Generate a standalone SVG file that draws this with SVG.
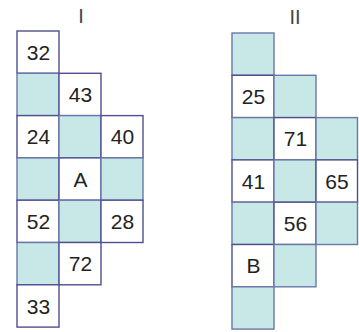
<svg xmlns="http://www.w3.org/2000/svg" width="359" height="332" viewBox="0 0 359 332">
<style>
.w{fill:#ffffff;stroke:#4f4f8f;stroke-width:1.4}
.t{fill:#c7e8e6;stroke:#6a78a8;stroke-width:1.4}
text{font-family:"Liberation Sans",Arial,sans-serif;font-size:21px;fill:#222;text-anchor:middle}
.h{font-size:20px;fill:#444}
</style>
<rect width="359" height="332" fill="#ffffff"/>
<text class="h" x="81" y="23">I</text>
<text class="h" x="295" y="24">II</text>
<g id="grid1">
<g id="I-32"><rect class="w" x="17" y="31" width="42" height="42.3"/><text x="38.5" y="59.7">32</text></g>
<g id="I-r1c0"><rect class="t" x="17" y="73.3" width="42" height="42.3"/></g>
<g id="I-43"><rect class="w" x="59" y="73.3" width="42" height="42.3"/><text x="80.5" y="102">43</text></g>
<g id="I-24"><rect class="w" x="17" y="115.6" width="42" height="42.3"/><text x="38.5" y="144.3">24</text></g>
<g id="I-r2c1"><rect class="t" x="59" y="115.6" width="42" height="42.3"/></g>
<g id="I-40"><rect class="w" x="101" y="115.6" width="42" height="42.3"/><text x="122.5" y="144.3">40</text></g>
<g id="I-r3c0"><rect class="t" x="17" y="157.9" width="42" height="42.3"/></g>
<g id="I-A"><rect class="w" x="59" y="157.9" width="42" height="42.3"/><text x="80.5" y="186.6">A</text></g>
<g id="I-r3c2"><rect class="t" x="101" y="157.9" width="42" height="42.3"/></g>
<g id="I-52"><rect class="w" x="17" y="200.2" width="42" height="42.3"/><text x="38.5" y="228.9">52</text></g>
<g id="I-r4c1"><rect class="t" x="59" y="200.2" width="42" height="42.3"/></g>
<g id="I-28"><rect class="w" x="101" y="200.2" width="42" height="42.3"/><text x="122.5" y="228.9">28</text></g>
<g id="I-r5c0"><rect class="t" x="17" y="242.5" width="42" height="42.3"/></g>
<g id="I-72"><rect class="w" x="59" y="242.5" width="42" height="42.3"/><text x="80.5" y="271.2">72</text></g>
<g id="I-33"><rect class="w" x="17" y="284.8" width="42" height="42.3"/><text x="38.5" y="313.5">33</text></g>
</g>
<g id="grid2">
<g id="II-r0c0"><rect class="t" x="232" y="33" width="42" height="42.3"/></g>
<g id="II-25"><rect class="w" x="232" y="75.3" width="42" height="42.3"/><text x="253.5" y="104">25</text></g>
<g id="II-r1c1"><rect class="t" x="274" y="75.3" width="42" height="42.3"/></g>
<g id="II-r2c0"><rect class="t" x="232" y="117.6" width="42" height="42.3"/></g>
<g id="II-71"><rect class="w" x="274" y="117.6" width="42" height="42.3"/><text x="295.5" y="146.3">71</text></g>
<g id="II-r2c2"><rect class="t" x="316" y="117.6" width="41.5" height="42.3"/></g>
<g id="II-41"><rect class="w" x="232" y="159.9" width="42" height="42.3"/><text x="253.5" y="188.6">41</text></g>
<g id="II-r3c1"><rect class="t" x="274" y="159.9" width="42" height="42.3"/></g>
<g id="II-65"><rect class="w" x="316" y="159.9" width="41.5" height="42.3"/><text x="337" y="188.6">65</text></g>
<g id="II-r4c0"><rect class="t" x="232" y="202.2" width="42" height="42.3"/></g>
<g id="II-56"><rect class="w" x="274" y="202.2" width="42" height="42.3"/><text x="295.5" y="230.9">56</text></g>
<g id="II-r4c2"><rect class="t" x="316" y="202.2" width="41.5" height="42.3"/></g>
<g id="II-B"><rect class="w" x="232" y="244.5" width="42" height="42.3"/><text x="253.5" y="273.2">B</text></g>
<g id="II-r5c1"><rect class="t" x="274" y="244.5" width="42" height="42.3"/></g>
<g id="II-r6c0"><rect class="t" x="232" y="286.8" width="42" height="42.3"/></g>
</g>
<g id="connectors"></g>
</svg>
